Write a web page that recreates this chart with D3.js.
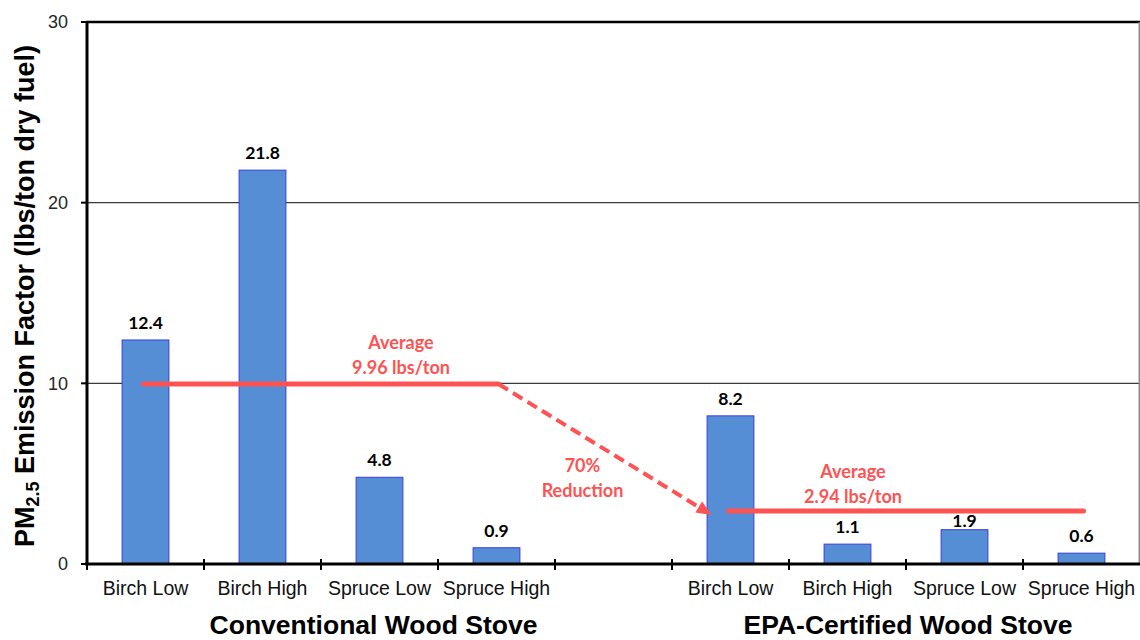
<!DOCTYPE html>
<html><head><meta charset="utf-8">
<script src="https://cdn.jsdelivr.net/npm/d3@7"></script>
<style>body{margin:0;background:#fff}</style>
</head><body><svg id="c" width="1140" height="640"></svg>
<script>
// ---- data ----
const groups = ["Conventional Wood Stove", "EPA-Certified Wood Stove"];
const fuels = ["Birch Low", "Birch High", "Spruce Low", "Spruce High"];
const conventionalValues = [12.4, 21.8, 4.8, 0.9];
const epaValues = [8.2, 1.1, 1.9, 0.6];
const averages = [9.96, 2.94];
const averageLabels = [["Average", "9.96 lbs/ton"], ["Average", "2.94 lbs/ton"]];
const reductionLabel = ["70%", "Reduction"];
const yTicks = [0, 10, 20, 30];
const yTitle = ["PM", "2.5", " Emission Factor (lbs/ton dry fuel)"];

// ---- build rows ----
const rows = [];
fuels.forEach((f, i) => rows.push({ key: "c" + i, group: 0, fuel: f, value: conventionalValues[i] }));
const gapKey = "gap";
fuels.forEach((f, i) => rows.push({ key: "e" + i, group: 1, fuel: f, value: epaValues[i] }));
const keys = rows.slice(0, 4).map(d => d.key).concat([gapKey], rows.slice(4).map(d => d.key));

const svg = d3.select("#c");
const x = d3.scaleBand().domain(keys).range([87, 1140]).padding(0);
const y = d3.scaleLinear().domain([0, 30]).range([564, 22]);
const bw = x.bandwidth();
const barW = bw * 0.4;
const cx = k => x(k) + bw / 2;
const red = "#ff5252";

// gridlines
svg.append("g").selectAll("line").data(yTicks.filter(t => t > 0 && t < 30)).join("line")
  .attr("x1", 87).attr("x2", 1139).attr("y1", d => y(d)).attr("y2", d => y(d))
  .attr("stroke", "#3a3a3a").attr("stroke-width", 1.2);

// bars
svg.append("g").selectAll("rect").data(rows).join("rect")
  .attr("x", d => cx(d.key) - barW / 2).attr("width", barW)
  .attr("y", d => y(d.value)).attr("height", d => y(0) - y(d.value))
  .attr("fill", "#558ed5").attr("stroke", "#3b3be0").attr("stroke-width", 1);

// value labels (nudged down toward the bar when they would hit the average line)
const labelOffset = d => {
  const base = y(d.value) - 11;
  const avgY = y(averages[d.group]);
  if (base > avgY - 2 && base - 13 < avgY + 4) return 3;
  return 11;
};
svg.append("g").selectAll("text").data(rows).join("text")
  .attr("x", d => cx(d.key)).attr("y", d => y(d.value) - labelOffset(d))
  .attr("text-anchor", "middle").attr("font-family", "Lato, sans-serif").attr("font-weight", 700)
  .attr("font-size", 17.5).attr("fill", "#000").text(d => d.value.toFixed(1));

// frame: top and right
svg.append("line").attr("x1", 86).attr("x2", 1140).attr("y1", y(30)).attr("y2", y(30))
  .attr("stroke", "#000").attr("stroke-width", 2.5);
svg.append("line").attr("x1", 1139.3).attr("x2", 1139.3).attr("y1", y(30)).attr("y2", y(0))
  .attr("stroke", "#888").attr("stroke-width", 1.5);

// y axis
svg.append("line").attr("x1", 87).attr("x2", 87).attr("y1", y(30) - 1).attr("y2", y(0) + 1)
  .attr("stroke", "#000").attr("stroke-width", 3);
const yg = svg.append("g");
yg.selectAll("line").data(yTicks).join("line")
  .attr("x1", 81).attr("x2", 87).attr("y1", d => y(d)).attr("y2", d => y(d))
  .attr("stroke", "#000").attr("stroke-width", 2);
yg.selectAll("text").data(yTicks).join("text")
  .attr("x", 68).attr("y", d => y(d)).attr("dy", "0.35em").attr("text-anchor", "end")
  .attr("font-family", "Arial, 'Liberation Sans', sans-serif").attr("font-size", 18).attr("fill", "#262626")
  .text(d => d);

// x axis
svg.append("line").attr("x1", 85).attr("x2", 1140).attr("y1", y(0)).attr("y2", y(0))
  .attr("stroke", "#000").attr("stroke-width", 3);
svg.append("g").selectAll("line").data(keys).join("line")
  .attr("x1", d => x(d)).attr("x2", d => x(d)).attr("y1", y(0) - 5).attr("y2", y(0) + 6)
  .attr("stroke", "#000").attr("stroke-width", 2);
svg.append("g").selectAll("text").data(rows).join("text")
  .attr("x", d => cx(d.key)).attr("y", 595).attr("text-anchor", "middle")
  .attr("font-family", "Arial, 'Liberation Sans', sans-serif").attr("font-size", 19.5).attr("fill", "#111")
  .text(d => d.fuel);

// group labels
const groupX = [(x("c0") + x(gapKey) + bw) / 2 - 6, (cx("e0") + cx("e3")) / 2 + 2];
svg.append("g").selectAll("text").data(groups).join("text")
  .attr("x", (d, i) => groupX[i]).attr("y", 634).attr("text-anchor", "middle")
  .attr("font-family", "Arial, 'Liberation Sans', sans-serif").attr("font-weight", 700)
  .attr("font-size", 26.5).attr("fill", "#000").text(d => d);

// y title
const yt = svg.append("text").attr("transform", "translate(34,296) rotate(-90)")
  .attr("text-anchor", "middle").attr("font-family", "Arial, 'Liberation Sans', sans-serif")
  .attr("font-weight", 700).attr("font-size", 27).attr("fill", "#000");
yt.append("tspan").text(yTitle[0]);
yt.append("tspan").attr("font-size", 18).attr("dy", 5).text(yTitle[1]);
yt.append("tspan").attr("dy", -5).text(yTitle[2]);

// average lines
const avgX = [[cx("c0"), cx("c3")], [cx("e0"), cx("e3")]];
svg.append("g").selectAll("line").data(averages).join("line")
  .attr("x1", (d, i) => avgX[i][0] - 2).attr("x2", (d, i) => avgX[i][1] + 2)
  .attr("y1", d => y(d)).attr("y2", d => y(d))
  .attr("stroke", red).attr("stroke-width", 5).attr("stroke-linecap", "round");

// dashed arrow
const p0 = [avgX[0][1] + 2, y(averages[0])];
const tip = [avgX[1][0] - 19, y(averages[1]) + 4];
const ang = Math.atan2(tip[1] - p0[1], tip[0] - p0[0]);
const headLen = 15, headHalf = 6.5;
const base = [tip[0] - headLen * Math.cos(ang), tip[1] - headLen * Math.sin(ang)];
svg.append("line").attr("x1", p0[0]).attr("y1", p0[1]).attr("x2", base[0]).attr("y2", base[1])
  .attr("stroke", red).attr("stroke-width", 4).attr("stroke-dasharray", "11,6");
const nx = -Math.sin(ang), ny = Math.cos(ang);
svg.append("path")
  .attr("d", `M${tip[0]},${tip[1]}L${base[0] + nx * headHalf},${base[1] + ny * headHalf}L${base[0] - nx * headHalf},${base[1] - ny * headHalf}Z`)
  .attr("fill", red);

// annotation text
const annFont = "Lato, 'Open Sans', sans-serif";
const annPos = [[401, 349], [853, 478]];
averageLabels.forEach((lab, i) => {
  svg.append("g").selectAll("text").data(lab).join("text")
    .attr("x", annPos[i][0]).attr("y", (d, j) => annPos[i][1] + j * 25)
    .attr("text-anchor", "middle").attr("font-family", annFont).attr("font-weight", 700)
    .attr("font-size", 18).attr("fill", red).text(d => d);
});
svg.append("g").selectAll("text").data(reductionLabel).join("text")
  .attr("x", cx(gapKey) - 31).attr("y", (d, j) => 472 + j * 25)
  .attr("text-anchor", "middle").attr("font-family", annFont).attr("font-weight", 700)
  .attr("font-size", 18).attr("fill", red).text(d => d);
</script>
</body></html>
